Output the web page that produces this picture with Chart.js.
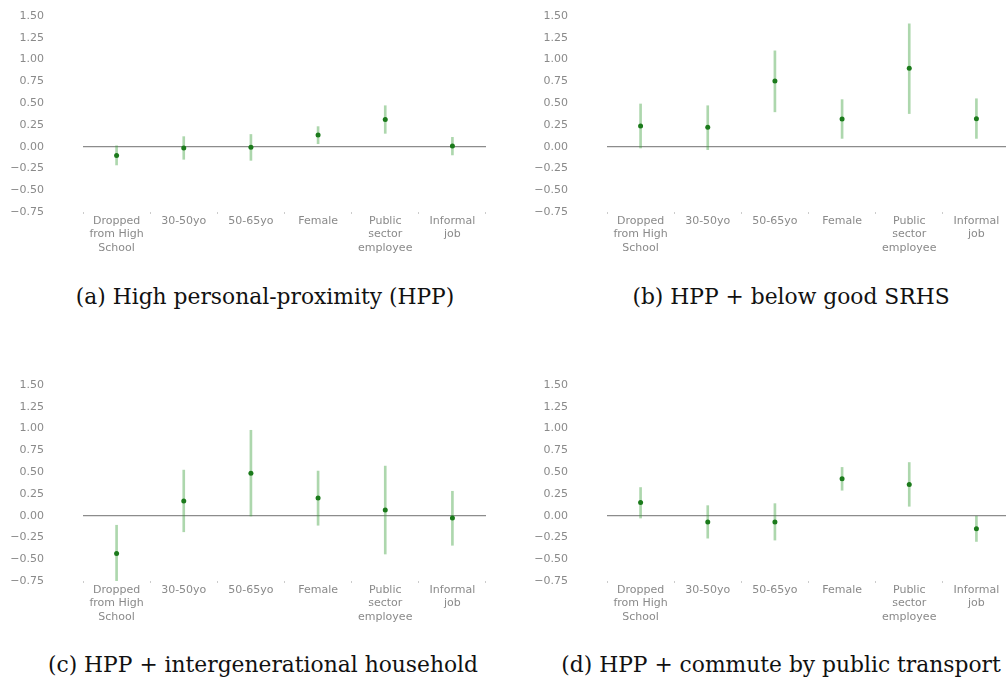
<!DOCTYPE html>
<html>
<head>
<meta charset="utf-8">
<script src="https://cdn.jsdelivr.net/npm/chart.js@4.4.1/dist/chart.umd.min.js"></script>
<style>
  html, body { margin: 0; padding: 0; background: #fff; overflow: hidden; }
  body { width: 1006px; height: 696px; position: relative; }
  .panel { position: absolute; width: 500px; height: 260px; }
  .caption { position: absolute; font-family: "DejaVu Serif", serif; font-size: 21.8px; line-height: 26px; color: #111; white-space: nowrap; transform: translateX(-50%); }
</style>
</head>
<body>
<div class="panel" style="left:0;top:0"><canvas id="chartA"></canvas></div>
<div class="panel" style="left:524px;top:0"><canvas id="chartB"></canvas></div>
<div class="panel" style="left:0;top:369px"><canvas id="chartC"></canvas></div>
<div class="panel" style="left:524px;top:369px"><canvas id="chartD"></canvas></div>
<div class="caption" style="left:265px;top:284px">(a) High personal-proximity (HPP)</div>
<div class="caption" style="left:791px;top:284px">(b) HPP + below good SRHS</div>
<div class="caption" style="left:263px;top:652px">(c) HPP + intergenerational household</div>
<div class="caption" style="left:781px;top:652px">(d) HPP + commute by public transport</div>
<script>
// categories on the x axis
const categories = [
    ['Dropped', 'from High', 'School'],
    ['30-50yo'],
    ['50-65yo'],
    ['Female'],
    ['Public', 'sector', 'employee'],
    ['Informal', 'job']
];
const yTicks = [-0.75, -0.5, -0.25, 0, 0.25, 0.5, 0.75, 1.0, 1.25, 1.5];

// (a) High personal-proximity
const estA = [-0.10, -0.015, -0.008, 0.134, 0.313, 0.008];
const lowA = [-0.21, -0.145, -0.157, 0.034, 0.153, -0.095];
const highA = [0.01, 0.115, 0.14, 0.23, 0.47, 0.107];

// (b) HPP + below good SRHS
const estB = [0.238, 0.222, 0.754, 0.318, 0.90, 0.32];
const lowB = [-0.015, -0.034, 0.40, 0.095, 0.38, 0.095];
const highB = [0.49, 0.47, 1.10, 0.54, 1.41, 0.55];

// (c) HPP + intergenerational household
const estC = [-0.435, 0.169, 0.488, 0.204, 0.065, -0.027];
const lowC = [-0.76, -0.185, -0.004, -0.11, -0.44, -0.34];
const highC = [-0.11, 0.523, 0.98, 0.512, 0.569, 0.28];

// (d) HPP + commute by public transport
const estD = [0.15, -0.073, -0.073, 0.423, 0.358, -0.15];
const lowD = [-0.027, -0.258, -0.28, 0.292, 0.108, -0.296];
const highD = [0.323, 0.115, 0.138, 0.554, 0.61, 0.0];

function fmt(v) {
    const s = Math.abs(v).toFixed(2);
    return v < 0 ? '\u2212' + s : s;
}

function makeChart(id, est, low, high) {
    const ctx = document.getElementById(id).getContext('2d');
    return new Chart(ctx, {
        data: {
            labels: categories,
            datasets: [
                {
                    type: 'scatter',
                    data: est,
                    showLine: false,
                    pointRadius: 2.5,
                    pointBackgroundColor: '#1b7a1b',
                    pointBorderWidth: 0,
                    order: 0
                },
                {
                    // error bars as thin floating bars
                    type: 'bar',
                    data: low.map((l, i) => [l, high[i]]),
                    backgroundColor: 'rgba(60, 160, 60, 0.42)',
                    barThickness: 2,
                    borderSkipped: false,
                    order: 1
                }
            ]
        },
        options: {
            responsive: false,
            animation: false,
            devicePixelRatio: 1,
            layout: { padding: { left: 0, right: 14, top: 16, bottom: 0 } },
            plugins: { legend: { display: false }, tooltip: { enabled: false } },
            scales: {
                x: {
                    type: 'category',
                    offset: true,
                    border: { display: false },
                    grid: { drawOnChartArea: false, drawTicks: true, tickLength: 2, color: '#ccc', offset: true },
                    ticks: {
                        color: '#8a8a8a',
                        font: { family: 'DejaVu Sans', size: 11, lineHeight: 1.25 },
                        padding: 0,
                        maxRotation: 0,
                        autoSkip: false
                    },
                    afterFit: s => { s.height = 48; }
                },
                y: {
                    min: -0.75,
                    max: 1.5,
                    border: { display: false },
                    grid: {
                        drawTicks: false,
                        color: c => (c.tick && c.tick.value === 0) ? '#8c8c8c' : 'rgba(0,0,0,0)',
                        lineWidth: 1.2
                    },
                    afterBuildTicks: s => { s.ticks = yTicks.map(v => ({ value: v })); },
                    ticks: {
                        color: '#8a8a8a',
                        font: { family: 'DejaVu Sans', size: 11 },
                        padding: 39,
                        callback: v => fmt(v)
                    },
                    afterFit: s => {
                        s.width = 83;
                        s.paddingTop = 6;
                        s.paddingBottom = 6;
                    }
                }
            }
        }
    });
}

function sizeCanvas(id) {
    const c = document.getElementById(id);
    c.width = 500; c.height = 260;
    c.style.width = '500px'; c.style.height = '260px';
}
['chartA', 'chartB', 'chartC', 'chartD'].forEach(sizeCanvas);

makeChart('chartA', estA, lowA, highA);
makeChart('chartB', estB, lowB, highB);
makeChart('chartC', estC, lowC, highC);
makeChart('chartD', estD, lowD, highD);
</script>
</body>
</html>
